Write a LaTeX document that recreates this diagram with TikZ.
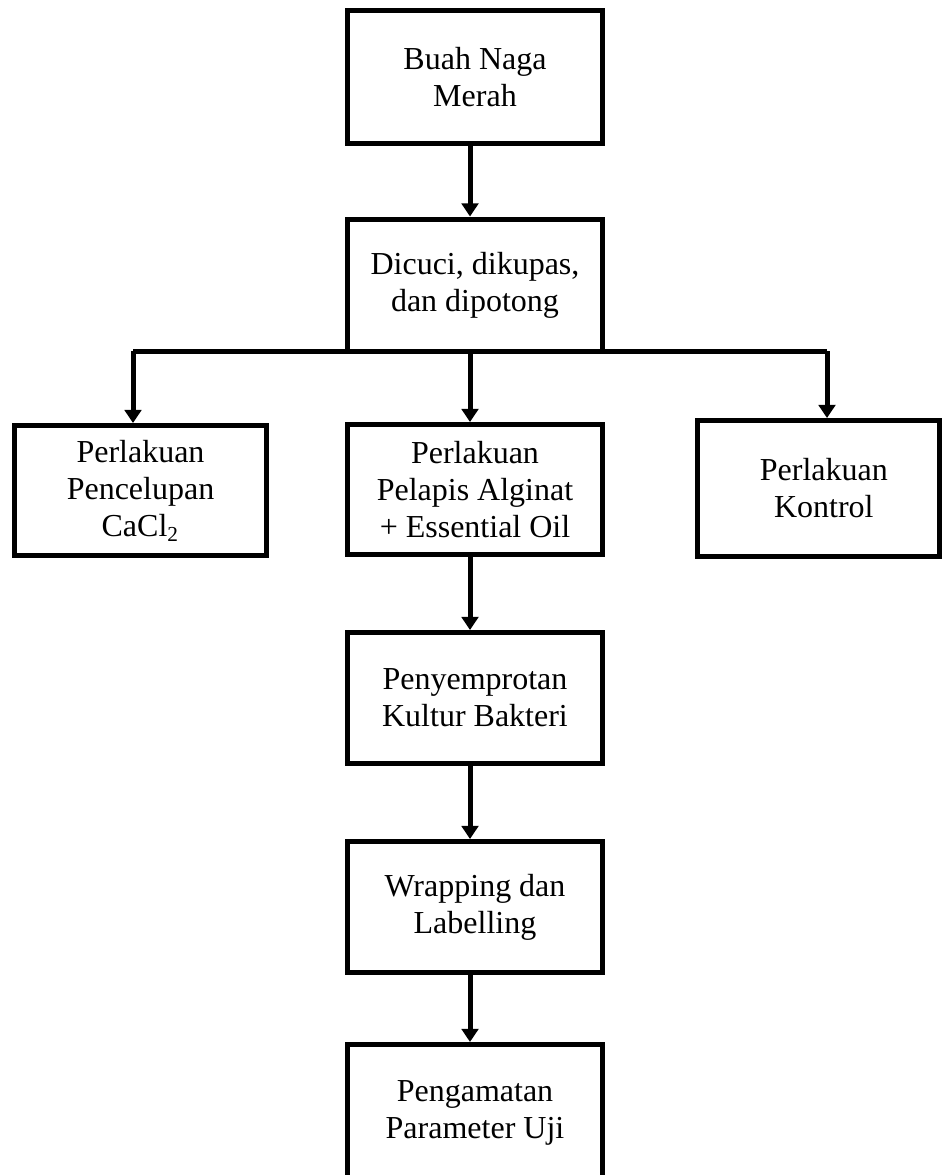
\documentclass[tikz,border=0pt]{standalone}
\usepackage{fontspec}
\setmainfont{Liberation Serif}
\usetikzlibrary{arrows.meta}
\tikzset{
  box/.style={draw=black, line width=1.875pt, fill=white, align=center,
    inner sep=0pt, font=\fontsize{12}{13.9}\selectfont},
  wide/.style={box, minimum width=95.625pt, minimum height=49.5pt},
  flowline/.style={draw=black, line width=1.875pt, line join=miter},
  arr/.style={flowline, -{Triangle[length=4.9pt,width=6.2pt]}}
}
\begin{document}
\begin{tikzpicture}[x=0.375pt,y=-0.375pt]
\clip (0,0) rectangle (944,1175);
\node[wide, minimum height=49.875pt] (b1) at (475,77) {Buah Naga\\Merah};
\node[wide, minimum height=49.5pt] (b2) at (475,285) {Dicuci, dikupas,\\dan dipotong};
\node[box, minimum width=94.5pt, minimum height=48.75pt] (b3) at (140.5,490.5) {Perlakuan\\Pencelupan\\CaCl\textsubscript{2}};
\node[wide, minimum height=48.75pt] (b4) at (475,489.5) {Perlakuan\\Pelapis Alginat\\+ Essential Oil};
\node[box, minimum width=90.75pt, minimum height=51pt] (b5) at (818.5,488.5) {\hspace*{4pt}Perlakuan\\\hspace*{4pt}Kontrol};
\node[wide, minimum height=49.125pt] (b6) at (475,698) {Penyemprotan\\Kultur Bakteri};
\node[wide, minimum height=49.125pt] (b7) at (475,907) {Wrapping dan\\Labelling};
\node[wide, minimum height=51.4pt] (b8) at (475,1113) {Pengamatan\\Parameter Uji};
\coordinate (ax) at (470,0);
\coordinate (jl) at (133,351);
\coordinate (jr) at (827,351);
\draw[arr] (b1.south -| ax) -- (b2.north -| ax);
\draw[flowline] (jl) -- (jr);
\draw[arr] (jl) -- (jl |- b3.north);
\draw[arr] (jr) -- (jr |- b5.north);
\draw[arr] (b2.south -| ax) -- (b4.north -| ax);
\draw[arr] (b4.south -| ax) -- (b6.north -| ax);
\draw[arr] (b6.south -| ax) -- (b7.north -| ax);
\draw[arr] (b7.south -| ax) -- (b8.north -| ax);
\end{tikzpicture}
\end{document}
